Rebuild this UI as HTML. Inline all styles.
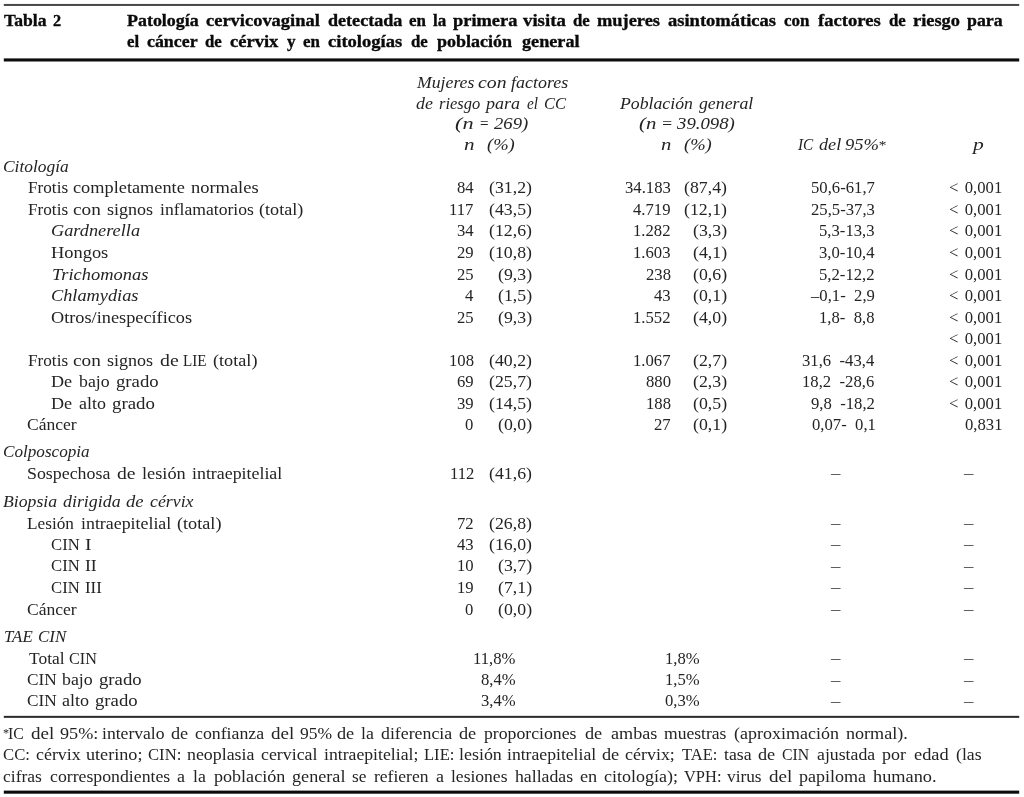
<!DOCTYPE html>
<html lang="es"><head><meta charset="utf-8"><title>Tabla 2</title>
<style>
html,body{margin:0;padding:0;background:#fff;}
body{width:1024px;height:797px;overflow:hidden;font-family:"Liberation Serif", serif;}
#w{position:absolute;left:0;top:0;width:1024px;height:797px;overflow:hidden;will-change:transform;filter:grayscale(1);}
#w svg{position:absolute;left:0;top:0;}
.x{position:absolute;white-space:pre;line-height:20px;height:20px;margin:0;padding:0;transform-origin:0 0;}
.t{font-weight:700;color:#0a0a0a;-webkit-text-stroke:0.35px #0a0a0a;}
.b{color:#242424;}
.i{font-style:italic;color:#242424;}
.f{color:#242424;}
.d{color:#444;}
.fg{display:inline-block;width:0.5em;}
</style></head>
<body>
<div id="w">
<svg width="1024" height="797" viewBox="0 0 1024 797"><rect x="3.80" y="3.95" width="1015.40" height="2.00" fill="#474747"/><rect x="3.80" y="58.40" width="1015.40" height="3.10" fill="#0c0c0c"/><rect x="3.80" y="715.85" width="1015.40" height="2.00" fill="#2a2a2a"/><rect x="3.80" y="790.60" width="1015.40" height="3.10" fill="#0c0c0c"/></svg>
<span class="x t" style="font-size:17.3px;word-spacing:0.09em;left:4.20px;top:11px;transform:scaleX(1.0215)">Tabla</span>
<span class="x t" style="font-size:17.3px;word-spacing:0.09em;left:53.10px;top:11px;transform:scaleX(0.9416)">2</span>
<span class="x i" style="font-size:17.1px;word-spacing:0.1em;left:416.60px;top:73px;transform:scaleX(1.0359)">Mujeres</span>
<span class="x i" style="font-size:17.1px;word-spacing:0.1em;left:477.90px;top:73px;transform:scaleX(1.1573)">con</span>
<span class="x i" style="font-size:17.1px;word-spacing:0.1em;left:511.30px;top:73px;transform:scaleX(1.0497)">factores</span>
<span class="x i" style="font-size:17.1px;word-spacing:0.1em;left:416.04px;top:94px;transform:scaleX(1.0462)">de</span>
<span class="x i" style="font-size:17.1px;word-spacing:0.1em;left:438.90px;top:94px;transform:scaleX(0.9632)">riesgo</span>
<span class="x i" style="font-size:17.1px;word-spacing:0.1em;left:486.40px;top:94px;transform:scaleX(1.0561)">para</span>
<span class="x i" style="font-size:17.1px;word-spacing:0.1em;left:526.91px;top:94px;transform:scaleX(0.8894)">el</span>
<span class="x i" style="font-size:17.1px;word-spacing:0.1em;left:544.26px;top:94px;transform:scaleX(0.9679)">CC</span>
<span class="x i" style="font-size:17.1px;word-spacing:0.1em;left:455.49px;top:114px;transform:scaleX(1.3049)">(n</span>
<span class="x i" style="font-size:17.1px;word-spacing:0.1em;left:478.57px;top:114px;transform:scaleX(0.8927)">=</span>
<span class="x i" style="font-size:17.1px;word-spacing:0.1em;left:494.30px;top:114px;transform:scaleX(1.0903)">269)</span>
<span class="x i" style="font-size:17.1px;word-spacing:0.1em;left:463.84px;top:135px;transform:scaleX(1.2340)">n</span>
<span class="x i" style="font-size:17.1px;word-spacing:0.1em;left:486.99px;top:135px;transform:scaleX(1.0839)">(%)</span>
<span class="x i" style="font-size:17.1px;word-spacing:0.1em;left:620.30px;top:94px;transform:scaleX(1.0378)">Población</span>
<span class="x i" style="font-size:17.1px;word-spacing:0.1em;left:698.80px;top:94px;transform:scaleX(1.0383)">general</span>
<span class="x i" style="font-size:17.1px;word-spacing:0.1em;left:639.23px;top:114px;transform:scaleX(1.2191)">(n</span>
<span class="x i" style="font-size:17.1px;word-spacing:0.1em;left:660.85px;top:114px;transform:scaleX(1.0357)">=</span>
<span class="x i" style="font-size:17.1px;word-spacing:0.1em;left:677.20px;top:114px;transform:scaleX(1.0982)">39.098)</span>
<span class="x i" style="font-size:17.1px;word-spacing:0.1em;left:660.51px;top:135px;transform:scaleX(1.2106)">n</span>
<span class="x i" style="font-size:17.1px;word-spacing:0.1em;left:683.69px;top:135px;transform:scaleX(1.0839)">(%)</span>
<span class="x i" style="font-size:17.1px;word-spacing:0.1em;left:797.80px;top:135px;transform:scaleX(0.8937)">IC</span>
<span class="x i" style="font-size:17.1px;word-spacing:0.1em;left:818.70px;top:135px;transform:scaleX(1.0634)">del</span>
<span class="x i" style="font-size:17.1px;word-spacing:0.1em;left:845.39px;top:135px;transform:scaleX(1.0868)">95%</span>
<span class="x i" style="font-size:13px;word-spacing:0.1em;left:877.67px;top:135px;transform:scaleX(1.1924)">*</span>
<span class="x i" style="font-size:17.1px;word-spacing:0.1em;left:973.10px;top:135px;transform:scaleX(1.2593)">p</span>
<span class="x i" style="font-size:17.1px;word-spacing:0.1em;left:3.39px;top:157px;transform:scaleX(1.0172)">Citología</span>
<span class="x b" style="font-size:17.1px;word-spacing:0.13em;left:27.76px;top:178px;transform:scaleX(1.0046)">Frotis</span>
<span class="x b" style="font-size:17.1px;word-spacing:0.13em;left:73.40px;top:178px;transform:scaleX(1.0708)">completamente</span>
<span class="x b" style="font-size:17.1px;word-spacing:0.13em;left:191.20px;top:178px;transform:scaleX(1.0787)">normales</span>
<span class="x b" style="font-size:17.1px;word-spacing:0.13em;left:27.76px;top:200px;transform:scaleX(1.0046)">Frotis</span>
<span class="x b" style="font-size:17.1px;word-spacing:0.13em;left:73.43px;top:200px;transform:scaleX(1.1272)">con</span>
<span class="x b" style="font-size:17.1px;word-spacing:0.13em;left:106.81px;top:200px;transform:scaleX(1.0547)">signos</span>
<span class="x b" style="font-size:17.1px;word-spacing:0.13em;left:159.60px;top:200px;transform:scaleX(1.0301)">inflamatorios</span>
<span class="x b" style="font-size:17.1px;word-spacing:0.13em;left:259.30px;top:200px;transform:scaleX(1.0601)">(total)</span>
<span class="x i" style="font-size:17.1px;word-spacing:0.1em;left:51.21px;top:221px;transform:scaleX(1.0695)">Gardnerella</span>
<span class="x b" style="font-size:17.1px;word-spacing:0.13em;left:51.21px;top:243px;transform:scaleX(1.0769)">Hongos</span>
<span class="x i" style="font-size:17.1px;word-spacing:0.1em;left:51.50px;top:265px;transform:scaleX(1.0794)">Trichomonas</span>
<span class="x i" style="font-size:17.1px;word-spacing:0.1em;left:50.60px;top:286px;transform:scaleX(1.0713)">Chlamydias</span>
<span class="x b" style="font-size:17.1px;word-spacing:0.13em;left:50.60px;top:308px;transform:scaleX(1.0692)">Otros/inespecíficos</span>
<span class="x b" style="font-size:17.1px;word-spacing:0.13em;left:27.76px;top:351px;transform:scaleX(1.0046)">Frotis</span>
<span class="x b" style="font-size:17.1px;word-spacing:0.13em;left:73.43px;top:351px;transform:scaleX(1.1272)">con</span>
<span class="x b" style="font-size:17.1px;word-spacing:0.13em;left:106.81px;top:351px;transform:scaleX(1.0547)">signos</span>
<span class="x b" style="font-size:17.1px;word-spacing:0.13em;left:159.56px;top:351px;transform:scaleX(1.1562)">de</span>
<span class="x b" style="font-size:17.1px;word-spacing:0.13em;left:183.40px;top:351px;transform:scaleX(0.8841)">LIE</span>
<span class="x b" style="font-size:17.1px;word-spacing:0.13em;left:213.02px;top:351px;transform:scaleX(1.0653)">(total)</span>
<span class="x b" style="font-size:17.1px;word-spacing:0.13em;left:51.19px;top:372px;transform:scaleX(1.0616)">De</span>
<span class="x b" style="font-size:17.1px;word-spacing:0.13em;left:78.70px;top:372px;transform:scaleX(1.0397)">bajo</span>
<span class="x b" style="font-size:17.1px;word-spacing:0.13em;left:115.61px;top:372px;transform:scaleX(1.0948)">grado</span>
<span class="x b" style="font-size:17.1px;word-spacing:0.13em;left:51.19px;top:394px;transform:scaleX(1.0616)">De</span>
<span class="x b" style="font-size:17.1px;word-spacing:0.13em;left:78.72px;top:394px;transform:scaleX(1.0500)">alto</span>
<span class="x b" style="font-size:17.1px;word-spacing:0.13em;left:112.08px;top:394px;transform:scaleX(1.1029)">grado</span>
<span class="x b" style="font-size:17.1px;word-spacing:0.13em;left:27.11px;top:415px;transform:scaleX(1.0261)">Cáncer</span>
<span class="x i" style="font-size:17.1px;word-spacing:0.1em;left:3.39px;top:442px;transform:scaleX(1.0031)">Colposcopia</span>
<span class="x b" style="font-size:17.1px;word-spacing:0.13em;left:27.10px;top:464px;transform:scaleX(1.0450)">Sospechosa</span>
<span class="x b" style="font-size:17.1px;word-spacing:0.13em;left:117.11px;top:464px;transform:scaleX(1.1482)">de</span>
<span class="x b" style="font-size:17.1px;word-spacing:0.13em;left:142.09px;top:464px;transform:scaleX(1.0720)">lesión</span>
<span class="x b" style="font-size:17.1px;word-spacing:0.13em;left:191.80px;top:464px;transform:scaleX(1.0450)">intraepitelial</span>
<span class="x i" style="font-size:17.1px;word-spacing:0.1em;left:3.40px;top:492px;transform:scaleX(1.0355)">Biopsia</span>
<span class="x i" style="font-size:17.1px;word-spacing:0.1em;left:63.01px;top:492px;transform:scaleX(1.0461)">dirigida</span>
<span class="x i" style="font-size:17.1px;word-spacing:0.1em;left:126.46px;top:492px;transform:scaleX(1.0875)">de</span>
<span class="x i" style="font-size:17.1px;word-spacing:0.1em;left:149.90px;top:492px;transform:scaleX(1.0414)">cérvix</span>
<span class="x b" style="font-size:17.1px;word-spacing:0.13em;left:27.12px;top:514px;transform:scaleX(1.0081)">Lesión</span>
<span class="x b" style="font-size:17.1px;word-spacing:0.13em;left:80.90px;top:514px;transform:scaleX(1.0450)">intraepitelial</span>
<span class="x b" style="font-size:17.1px;word-spacing:0.13em;left:176.50px;top:514px;transform:scaleX(1.0651)">(total)</span>
<span class="x b" style="font-size:17.1px;word-spacing:0.13em;left:50.63px;top:535px;transform:scaleX(0.9760)">CIN</span>
<span class="x b" style="font-size:17.1px;word-spacing:0.13em;left:84.96px;top:535px;transform:scaleX(1.1421)">I</span>
<span class="x b" style="font-size:17.1px;word-spacing:0.13em;left:50.63px;top:556px;transform:scaleX(0.9760)">CIN</span>
<span class="x b" style="font-size:17.1px;word-spacing:0.13em;left:84.98px;top:556px;transform:scaleX(1.0303)">II</span>
<span class="x b" style="font-size:17.1px;word-spacing:0.13em;left:50.63px;top:578px;transform:scaleX(0.9760)">CIN</span>
<span class="x b" style="font-size:17.1px;word-spacing:0.13em;left:84.94px;top:578px;transform:scaleX(0.9847)">III</span>
<span class="x b" style="font-size:17.1px;word-spacing:0.13em;left:27.11px;top:600px;transform:scaleX(1.0261)">Cáncer</span>
<span class="x i" style="font-size:17.1px;word-spacing:0.1em;left:4.30px;top:627px;transform:scaleX(0.9839)">TAE</span>
<span class="x i" style="font-size:17.1px;word-spacing:0.1em;left:37.99px;top:627px;transform:scaleX(0.9904)">CIN</span>
<span class="x b" style="font-size:17.1px;word-spacing:0.13em;left:28.75px;top:649px;transform:scaleX(1.0186)">Total</span>
<span class="x b" style="font-size:17.1px;word-spacing:0.13em;left:69.31px;top:649px;transform:scaleX(0.9466)">CIN</span>
<span class="x b" style="font-size:17.1px;word-spacing:0.13em;left:27.08px;top:670px;transform:scaleX(1.0087)">CIN</span>
<span class="x b" style="font-size:17.1px;word-spacing:0.13em;left:62.41px;top:670px;transform:scaleX(1.0439)">bajo</span>
<span class="x b" style="font-size:17.1px;word-spacing:0.13em;left:99.01px;top:670px;transform:scaleX(1.0948)">grado</span>
<span class="x b" style="font-size:17.1px;word-spacing:0.13em;left:27.08px;top:691px;transform:scaleX(1.0087)">CIN</span>
<span class="x b" style="font-size:17.1px;word-spacing:0.13em;left:62.40px;top:691px;transform:scaleX(1.0577)">alto</span>
<span class="x b" style="font-size:17.1px;word-spacing:0.13em;left:95.31px;top:691px;transform:scaleX(1.0948)">grado</span>
<span class="x b" style="font-size:17.1px;word-spacing:0.13em;left:457.40px;top:178px;transform:scaleX(0.9750)">84</span>
<span class="x b" style="font-size:17.1px;word-spacing:0.13em;left:489.40px;top:178px;transform:scaleX(1.0400)">(31,2)</span>
<span class="x b" style="font-size:17.1px;word-spacing:0.13em;left:624.80px;top:178px;transform:scaleX(0.9750)">34.183</span>
<span class="x b" style="font-size:17.1px;word-spacing:0.13em;left:684.00px;top:178px;transform:scaleX(1.0400)">(87,4)</span>
<span class="x b" style="font-size:17.1px;word-spacing:0.13em;left:811.30px;top:178px;transform:scaleX(0.9750)">50,6-61,7</span>
<span class="x b" style="font-size:17.1px;word-spacing:0.13em;left:948.50px;top:178px;transform:scaleX(0.9750)">&lt; 0,001</span>
<span class="x b" style="font-size:17.1px;word-spacing:0.13em;left:449.40px;top:200px;transform:scaleX(0.9750)">117</span>
<span class="x b" style="font-size:17.1px;word-spacing:0.13em;left:489.40px;top:200px;transform:scaleX(1.0400)">(43,5)</span>
<span class="x b" style="font-size:17.1px;word-spacing:0.13em;left:632.80px;top:200px;transform:scaleX(0.9750)">4.719</span>
<span class="x b" style="font-size:17.1px;word-spacing:0.13em;left:684.00px;top:200px;transform:scaleX(1.0400)">(12,1)</span>
<span class="x b" style="font-size:17.1px;word-spacing:0.13em;left:811.30px;top:200px;transform:scaleX(0.9750)">25,5-37,3</span>
<span class="x b" style="font-size:17.1px;word-spacing:0.13em;left:948.50px;top:200px;transform:scaleX(0.9750)">&lt; 0,001</span>
<span class="x b" style="font-size:17.1px;word-spacing:0.13em;left:457.40px;top:221px;transform:scaleX(0.9750)">34</span>
<span class="x b" style="font-size:17.1px;word-spacing:0.13em;left:489.40px;top:221px;transform:scaleX(1.0400)">(12,6)</span>
<span class="x b" style="font-size:17.1px;word-spacing:0.13em;left:632.80px;top:221px;transform:scaleX(0.9750)">1.282</span>
<span class="x b" style="font-size:17.1px;word-spacing:0.13em;left:693.00px;top:221px;transform:scaleX(1.0400)">(3,3)</span>
<span class="x b" style="font-size:17.1px;word-spacing:0.13em;left:819.30px;top:221px;transform:scaleX(0.9750)">5,3-13,3</span>
<span class="x b" style="font-size:17.1px;word-spacing:0.13em;left:948.50px;top:221px;transform:scaleX(0.9750)">&lt; 0,001</span>
<span class="x b" style="font-size:17.1px;word-spacing:0.13em;left:457.40px;top:243px;transform:scaleX(0.9750)">29</span>
<span class="x b" style="font-size:17.1px;word-spacing:0.13em;left:489.40px;top:243px;transform:scaleX(1.0400)">(10,8)</span>
<span class="x b" style="font-size:17.1px;word-spacing:0.13em;left:632.80px;top:243px;transform:scaleX(0.9750)">1.603</span>
<span class="x b" style="font-size:17.1px;word-spacing:0.13em;left:693.00px;top:243px;transform:scaleX(1.0400)">(4,1)</span>
<span class="x b" style="font-size:17.1px;word-spacing:0.13em;left:819.30px;top:243px;transform:scaleX(0.9750)">3,0-10,4</span>
<span class="x b" style="font-size:17.1px;word-spacing:0.13em;left:948.50px;top:243px;transform:scaleX(0.9750)">&lt; 0,001</span>
<span class="x b" style="font-size:17.1px;word-spacing:0.13em;left:457.40px;top:265px;transform:scaleX(0.9750)">25</span>
<span class="x b" style="font-size:17.1px;word-spacing:0.13em;left:498.40px;top:265px;transform:scaleX(1.0400)">(9,3)</span>
<span class="x b" style="font-size:17.1px;word-spacing:0.13em;left:645.80px;top:265px;transform:scaleX(0.9750)">238</span>
<span class="x b" style="font-size:17.1px;word-spacing:0.13em;left:693.00px;top:265px;transform:scaleX(1.0400)">(0,6)</span>
<span class="x b" style="font-size:17.1px;word-spacing:0.13em;left:819.30px;top:265px;transform:scaleX(0.9750)">5,2-12,2</span>
<span class="x b" style="font-size:17.1px;word-spacing:0.13em;left:948.50px;top:265px;transform:scaleX(0.9750)">&lt; 0,001</span>
<span class="x b" style="font-size:17.1px;word-spacing:0.13em;left:465.40px;top:286px;transform:scaleX(0.9750)">4</span>
<span class="x b" style="font-size:17.1px;word-spacing:0.13em;left:498.40px;top:286px;transform:scaleX(1.0400)">(1,5)</span>
<span class="x b" style="font-size:17.1px;word-spacing:0.13em;left:653.80px;top:286px;transform:scaleX(0.9750)">43</span>
<span class="x b" style="font-size:17.1px;word-spacing:0.13em;left:693.00px;top:286px;transform:scaleX(1.0400)">(0,1)</span>
<span class="x b" style="font-size:17.1px;word-spacing:0.13em;left:811.30px;top:286px;transform:scaleX(0.9750)">–0,1-<span class="fg"></span>2,9</span>
<span class="x b" style="font-size:17.1px;word-spacing:0.13em;left:948.50px;top:286px;transform:scaleX(0.9750)">&lt; 0,001</span>
<span class="x b" style="font-size:17.1px;word-spacing:0.13em;left:457.40px;top:308px;transform:scaleX(0.9750)">25</span>
<span class="x b" style="font-size:17.1px;word-spacing:0.13em;left:498.40px;top:308px;transform:scaleX(1.0400)">(9,3)</span>
<span class="x b" style="font-size:17.1px;word-spacing:0.13em;left:632.80px;top:308px;transform:scaleX(0.9750)">1.552</span>
<span class="x b" style="font-size:17.1px;word-spacing:0.13em;left:693.00px;top:308px;transform:scaleX(1.0400)">(4,0)</span>
<span class="x b" style="font-size:17.1px;word-spacing:0.13em;left:819.30px;top:308px;transform:scaleX(0.9750)">1,8-<span class="fg"></span>8,8</span>
<span class="x b" style="font-size:17.1px;word-spacing:0.13em;left:948.50px;top:308px;transform:scaleX(0.9750)">&lt; 0,001</span>
<span class="x b" style="font-size:17.1px;word-spacing:0.13em;left:948.50px;top:329px;transform:scaleX(0.9750)">&lt; 0,001</span>
<span class="x b" style="font-size:17.1px;word-spacing:0.13em;left:449.40px;top:351px;transform:scaleX(0.9750)">108</span>
<span class="x b" style="font-size:17.1px;word-spacing:0.13em;left:489.40px;top:351px;transform:scaleX(1.0400)">(40,2)</span>
<span class="x b" style="font-size:17.1px;word-spacing:0.13em;left:632.80px;top:351px;transform:scaleX(0.9750)">1.067</span>
<span class="x b" style="font-size:17.1px;word-spacing:0.13em;left:693.00px;top:351px;transform:scaleX(1.0400)">(2,7)</span>
<span class="x b" style="font-size:17.1px;word-spacing:0.13em;left:802.30px;top:351px;transform:scaleX(0.9750)">31,6<span class="fg"></span>-43,4</span>
<span class="x b" style="font-size:17.1px;word-spacing:0.13em;left:948.50px;top:351px;transform:scaleX(0.9750)">&lt; 0,001</span>
<span class="x b" style="font-size:17.1px;word-spacing:0.13em;left:457.40px;top:372px;transform:scaleX(0.9750)">69</span>
<span class="x b" style="font-size:17.1px;word-spacing:0.13em;left:489.40px;top:372px;transform:scaleX(1.0400)">(25,7)</span>
<span class="x b" style="font-size:17.1px;word-spacing:0.13em;left:645.80px;top:372px;transform:scaleX(0.9750)">880</span>
<span class="x b" style="font-size:17.1px;word-spacing:0.13em;left:693.00px;top:372px;transform:scaleX(1.0400)">(2,3)</span>
<span class="x b" style="font-size:17.1px;word-spacing:0.13em;left:802.30px;top:372px;transform:scaleX(0.9750)">18,2<span class="fg"></span>-28,6</span>
<span class="x b" style="font-size:17.1px;word-spacing:0.13em;left:948.50px;top:372px;transform:scaleX(0.9750)">&lt; 0,001</span>
<span class="x b" style="font-size:17.1px;word-spacing:0.13em;left:457.40px;top:394px;transform:scaleX(0.9750)">39</span>
<span class="x b" style="font-size:17.1px;word-spacing:0.13em;left:489.40px;top:394px;transform:scaleX(1.0400)">(14,5)</span>
<span class="x b" style="font-size:17.1px;word-spacing:0.13em;left:645.80px;top:394px;transform:scaleX(0.9750)">188</span>
<span class="x b" style="font-size:17.1px;word-spacing:0.13em;left:693.00px;top:394px;transform:scaleX(1.0400)">(0,5)</span>
<span class="x b" style="font-size:17.1px;word-spacing:0.13em;left:811.30px;top:394px;transform:scaleX(0.9750)">9,8<span class="fg"></span>-18,2</span>
<span class="x b" style="font-size:17.1px;word-spacing:0.13em;left:948.50px;top:394px;transform:scaleX(0.9750)">&lt; 0,001</span>
<span class="x b" style="font-size:17.1px;word-spacing:0.13em;left:465.40px;top:415px;transform:scaleX(0.9750)">0</span>
<span class="x b" style="font-size:17.1px;word-spacing:0.13em;left:498.40px;top:415px;transform:scaleX(1.0400)">(0,0)</span>
<span class="x b" style="font-size:17.1px;word-spacing:0.13em;left:653.80px;top:415px;transform:scaleX(0.9750)">27</span>
<span class="x b" style="font-size:17.1px;word-spacing:0.13em;left:693.00px;top:415px;transform:scaleX(1.0400)">(0,1)</span>
<span class="x b" style="font-size:17.1px;word-spacing:0.13em;left:812.30px;top:415px;transform:scaleX(0.9750)">0,07-<span class="fg"></span>0,1</span>
<span class="x b" style="font-size:17.1px;word-spacing:0.13em;left:964.50px;top:415px;transform:scaleX(0.9750)">0,831</span>
<span class="x b" style="font-size:17.1px;word-spacing:0.13em;left:450.40px;top:464px;transform:scaleX(0.9750)">112</span>
<span class="x b" style="font-size:17.1px;word-spacing:0.13em;left:489.40px;top:464px;transform:scaleX(1.0400)">(41,6)</span>
<span class="x d" style="font-size:17.1px;word-spacing:0em;left:830.80px;top:463px;transform:scaleX(1.1000)">–</span>
<span class="x d" style="font-size:17.1px;word-spacing:0em;left:963.90px;top:463px;transform:scaleX(1.1000)">–</span>
<span class="x b" style="font-size:17.1px;word-spacing:0.13em;left:457.40px;top:514px;transform:scaleX(0.9750)">72</span>
<span class="x b" style="font-size:17.1px;word-spacing:0.13em;left:489.40px;top:514px;transform:scaleX(1.0400)">(26,8)</span>
<span class="x d" style="font-size:17.1px;word-spacing:0em;left:830.80px;top:513px;transform:scaleX(1.1000)">–</span>
<span class="x d" style="font-size:17.1px;word-spacing:0em;left:963.90px;top:513px;transform:scaleX(1.1000)">–</span>
<span class="x b" style="font-size:17.1px;word-spacing:0.13em;left:457.40px;top:535px;transform:scaleX(0.9750)">43</span>
<span class="x b" style="font-size:17.1px;word-spacing:0.13em;left:489.40px;top:535px;transform:scaleX(1.0400)">(16,0)</span>
<span class="x d" style="font-size:17.1px;word-spacing:0em;left:830.80px;top:534px;transform:scaleX(1.1000)">–</span>
<span class="x d" style="font-size:17.1px;word-spacing:0em;left:963.90px;top:534px;transform:scaleX(1.1000)">–</span>
<span class="x b" style="font-size:17.1px;word-spacing:0.13em;left:457.40px;top:556px;transform:scaleX(0.9750)">10</span>
<span class="x b" style="font-size:17.1px;word-spacing:0.13em;left:498.40px;top:556px;transform:scaleX(1.0400)">(3,7)</span>
<span class="x d" style="font-size:17.1px;word-spacing:0em;left:830.80px;top:556px;transform:scaleX(1.1000)">–</span>
<span class="x d" style="font-size:17.1px;word-spacing:0em;left:963.90px;top:556px;transform:scaleX(1.1000)">–</span>
<span class="x b" style="font-size:17.1px;word-spacing:0.13em;left:457.40px;top:578px;transform:scaleX(0.9750)">19</span>
<span class="x b" style="font-size:17.1px;word-spacing:0.13em;left:498.40px;top:578px;transform:scaleX(1.0400)">(7,1)</span>
<span class="x d" style="font-size:17.1px;word-spacing:0em;left:830.80px;top:577px;transform:scaleX(1.1000)">–</span>
<span class="x d" style="font-size:17.1px;word-spacing:0em;left:963.90px;top:577px;transform:scaleX(1.1000)">–</span>
<span class="x b" style="font-size:17.1px;word-spacing:0.13em;left:465.40px;top:600px;transform:scaleX(0.9750)">0</span>
<span class="x b" style="font-size:17.1px;word-spacing:0.13em;left:498.40px;top:600px;transform:scaleX(1.0400)">(0,0)</span>
<span class="x d" style="font-size:17.1px;word-spacing:0em;left:830.80px;top:599px;transform:scaleX(1.1000)">–</span>
<span class="x d" style="font-size:17.1px;word-spacing:0em;left:963.90px;top:599px;transform:scaleX(1.1000)">–</span>
<span class="x b" style="font-size:17.1px;word-spacing:0.13em;left:473.30px;top:649px;transform:scaleX(0.9750)">11,8%</span>
<span class="x b" style="font-size:17.1px;word-spacing:0.13em;left:665.40px;top:649px;transform:scaleX(0.9750)">1,8%</span>
<span class="x d" style="font-size:17.1px;word-spacing:0em;left:830.80px;top:648px;transform:scaleX(1.1000)">–</span>
<span class="x d" style="font-size:17.1px;word-spacing:0em;left:963.90px;top:648px;transform:scaleX(1.1000)">–</span>
<span class="x b" style="font-size:17.1px;word-spacing:0.13em;left:481.30px;top:670px;transform:scaleX(0.9750)">8,4%</span>
<span class="x b" style="font-size:17.1px;word-spacing:0.13em;left:665.40px;top:670px;transform:scaleX(0.9750)">1,5%</span>
<span class="x d" style="font-size:17.1px;word-spacing:0em;left:830.80px;top:670px;transform:scaleX(1.1000)">–</span>
<span class="x d" style="font-size:17.1px;word-spacing:0em;left:963.90px;top:670px;transform:scaleX(1.1000)">–</span>
<span class="x b" style="font-size:17.1px;word-spacing:0.13em;left:481.30px;top:691px;transform:scaleX(0.9750)">3,4%</span>
<span class="x b" style="font-size:17.1px;word-spacing:0.13em;left:665.40px;top:691px;transform:scaleX(0.9750)">0,3%</span>
<span class="x d" style="font-size:17.1px;word-spacing:0em;left:830.80px;top:691px;transform:scaleX(1.1000)">–</span>
<span class="x d" style="font-size:17.1px;word-spacing:0em;left:963.90px;top:691px;transform:scaleX(1.1000)">–</span>
<span class="x f" style="font-size:13px;word-spacing:0.11em;left:3.05px;top:723px;transform:scaleX(0.9431)">*</span>
<span class="x t" style="font-size:17.3px;word-spacing:0.09em;left:126.60px;top:11px;transform:scaleX(1.0371)">Patología</span>
<span class="x t" style="font-size:17.3px;word-spacing:0.09em;left:206.47px;top:11px;transform:scaleX(1.0685)">cervicovaginal</span>
<span class="x t" style="font-size:17.3px;word-spacing:0.09em;left:327.90px;top:11px;transform:scaleX(1.0471)">detectada</span>
<span class="x t" style="font-size:17.3px;word-spacing:0.09em;left:408.96px;top:11px;transform:scaleX(0.9798)">en</span>
<span class="x t" style="font-size:17.3px;word-spacing:0.09em;left:432.87px;top:11px;transform:scaleX(0.9817)">la</span>
<span class="x t" style="font-size:17.3px;word-spacing:0.09em;left:452.90px;top:11px;transform:scaleX(1.0645)">primera</span>
<span class="x t" style="font-size:17.3px;word-spacing:0.09em;left:523.32px;top:11px;transform:scaleX(1.0878)">visita</span>
<span class="x t" style="font-size:17.3px;word-spacing:0.09em;left:573.19px;top:11px;transform:scaleX(0.9734)">de</span>
<span class="x t" style="font-size:17.3px;word-spacing:0.09em;left:597.47px;top:11px;transform:scaleX(1.0637)">mujeres</span>
<span class="x t" style="font-size:17.3px;word-spacing:0.09em;left:668.35px;top:11px;transform:scaleX(1.0714)">asintomáticas</span>
<span class="x t" style="font-size:17.3px;word-spacing:0.09em;left:784.21px;top:11px;transform:scaleX(0.9838)">con</span>
<span class="x t" style="font-size:17.3px;word-spacing:0.09em;left:818.34px;top:11px;transform:scaleX(1.0767)">factores</span>
<span class="x t" style="font-size:17.3px;word-spacing:0.09em;left:889.15px;top:11px;transform:scaleX(0.9734)">de</span>
<span class="x t" style="font-size:17.3px;word-spacing:0.09em;left:913.33px;top:11px;transform:scaleX(1.0626)">riesgo</span>
<span class="x t" style="font-size:17.3px;word-spacing:0.09em;left:967.47px;top:11px;transform:scaleX(1.0308)">para</span>
<span class="x t" style="font-size:17.3px;word-spacing:0.09em;left:126.60px;top:32px;transform:scaleX(0.9696)">el</span>
<span class="x t" style="font-size:17.3px;word-spacing:0.09em;left:146.77px;top:32px;transform:scaleX(1.0331)">cáncer</span>
<span class="x t" style="font-size:17.3px;word-spacing:0.09em;left:205.17px;top:32px;transform:scaleX(0.9734)">de</span>
<span class="x t" style="font-size:17.3px;word-spacing:0.09em;left:230.07px;top:32px;transform:scaleX(1.0716)">cérvix</span>
<span class="x t" style="font-size:17.3px;word-spacing:0.09em;left:286.62px;top:32px;transform:scaleX(0.9818)">y</span>
<span class="x t" style="font-size:17.3px;word-spacing:0.09em;left:303.02px;top:32px;transform:scaleX(0.9798)">en</span>
<span class="x t" style="font-size:17.3px;word-spacing:0.09em;left:328.10px;top:32px;transform:scaleX(1.0740)">citologías</span>
<span class="x t" style="font-size:17.3px;word-spacing:0.09em;left:410.53px;top:32px;transform:scaleX(0.9734)">de</span>
<span class="x t" style="font-size:17.3px;word-spacing:0.09em;left:437.01px;top:32px;transform:scaleX(1.0419)">población</span>
<span class="x t" style="font-size:17.3px;word-spacing:0.09em;left:522.08px;top:32px;transform:scaleX(1.0516)">general</span>
<span class="x f" style="font-size:16.6px;word-spacing:0.11em;left:8.30px;top:724px;transform:scaleX(0.9559)">IC</span>
<span class="x f" style="font-size:16.6px;word-spacing:0.11em;left:31.29px;top:724px;transform:scaleX(1.1466)">del</span>
<span class="x f" style="font-size:16.6px;word-spacing:0.11em;left:59.56px;top:724px;transform:scaleX(1.0943)">95%:</span>
<span class="x f" style="font-size:16.6px;word-spacing:0.11em;left:102.46px;top:724px;transform:scaleX(1.0603)">intervalo</span>
<span class="x f" style="font-size:16.6px;word-spacing:0.11em;left:171.35px;top:724px;transform:scaleX(1.0996)">de</span>
<span class="x f" style="font-size:16.6px;word-spacing:0.11em;left:195.23px;top:724px;transform:scaleX(1.0720)">confianza</span>
<span class="x f" style="font-size:16.6px;word-spacing:0.11em;left:271.17px;top:724px;transform:scaleX(1.1466)">del</span>
<span class="x f" style="font-size:16.6px;word-spacing:0.11em;left:299.53px;top:724px;transform:scaleX(1.0553)">95%</span>
<span class="x f" style="font-size:16.6px;word-spacing:0.11em;left:337.39px;top:724px;transform:scaleX(1.0996)">de</span>
<span class="x f" style="font-size:16.6px;word-spacing:0.11em;left:360.86px;top:724px;transform:scaleX(1.0750)">la</span>
<span class="x f" style="font-size:16.6px;word-spacing:0.11em;left:380.74px;top:724px;transform:scaleX(1.0734)">diferencia</span>
<span class="x f" style="font-size:16.6px;word-spacing:0.11em;left:458.78px;top:724px;transform:scaleX(1.0996)">de</span>
<span class="x f" style="font-size:16.6px;word-spacing:0.11em;left:484.14px;top:724px;transform:scaleX(1.0669)">proporciones</span>
<span class="x f" style="font-size:16.6px;word-spacing:0.11em;left:585.17px;top:724px;transform:scaleX(1.0996)">de</span>
<span class="x f" style="font-size:16.6px;word-spacing:0.11em;left:610.73px;top:724px;transform:scaleX(1.0918)">ambas</span>
<span class="x f" style="font-size:16.6px;word-spacing:0.11em;left:664.41px;top:724px;transform:scaleX(1.0573)">muestras</span>
<span class="x f" style="font-size:16.6px;word-spacing:0.11em;left:734.36px;top:724px;transform:scaleX(1.0841)">(aproximación</span>
<span class="x f" style="font-size:16.6px;word-spacing:0.11em;left:845.51px;top:724px;transform:scaleX(1.0906)">normal).</span>
<span class="x f" style="font-size:16.6px;word-spacing:0.11em;left:3.02px;top:745px;transform:scaleX(1.0078)">CC:</span>
<span class="x f" style="font-size:16.6px;word-spacing:0.11em;left:35.54px;top:745px;transform:scaleX(1.0779)">cérvix</span>
<span class="x f" style="font-size:16.6px;word-spacing:0.11em;left:85.95px;top:745px;transform:scaleX(1.0934)">uterino;</span>
<span class="x f" style="font-size:16.6px;word-spacing:0.11em;left:147.93px;top:745px;transform:scaleX(1.0037)">CIN:</span>
<span class="x f" style="font-size:16.6px;word-spacing:0.11em;left:187.39px;top:745px;transform:scaleX(1.0757)">neoplasia</span>
<span class="x f" style="font-size:16.6px;word-spacing:0.11em;left:261.30px;top:745px;transform:scaleX(1.0756)">cervical</span>
<span class="x f" style="font-size:16.6px;word-spacing:0.11em;left:323.95px;top:745px;transform:scaleX(1.0663)">intraepitelial;</span>
<span class="x f" style="font-size:16.6px;word-spacing:0.11em;left:423.57px;top:745px;transform:scaleX(0.9979)">LIE:</span>
<span class="x f" style="font-size:16.6px;word-spacing:0.11em;left:458.89px;top:745px;transform:scaleX(1.0803)">lesión</span>
<span class="x f" style="font-size:16.6px;word-spacing:0.11em;left:506.78px;top:745px;transform:scaleX(1.0631)">intraepitelial</span>
<span class="x f" style="font-size:16.6px;word-spacing:0.11em;left:601.61px;top:745px;transform:scaleX(1.0996)">de</span>
<span class="x f" style="font-size:16.6px;word-spacing:0.11em;left:625.40px;top:745px;transform:scaleX(1.0822)">cérvix;</span>
<span class="x f" style="font-size:16.6px;word-spacing:0.11em;left:681.85px;top:745px;transform:scaleX(0.9951)">TAE:</span>
<span class="x f" style="font-size:16.6px;word-spacing:0.11em;left:723.81px;top:745px;transform:scaleX(1.0683)">tasa</span>
<span class="x f" style="font-size:16.6px;word-spacing:0.11em;left:758.08px;top:745px;transform:scaleX(1.0996)">de</span>
<span class="x f" style="font-size:16.6px;word-spacing:0.11em;left:782.14px;top:745px;transform:scaleX(0.9500)">CIN</span>
<span class="x f" style="font-size:16.6px;word-spacing:0.11em;left:816.52px;top:745px;transform:scaleX(1.0696)">ajustada</span>
<span class="x f" style="font-size:16.6px;word-spacing:0.11em;left:881.96px;top:745px;transform:scaleX(1.0828)">por</span>
<span class="x f" style="font-size:16.6px;word-spacing:0.11em;left:913.95px;top:745px;transform:scaleX(1.1062)">edad</span>
<span class="x f" style="font-size:16.6px;word-spacing:0.11em;left:956.06px;top:745px;transform:scaleX(1.0675)">(las</span>
<span class="x f" style="font-size:16.6px;word-spacing:0.11em;left:3.48px;top:767px;transform:scaleX(1.0563)">cifras</span>
<span class="x f" style="font-size:16.6px;word-spacing:0.11em;left:49.61px;top:767px;transform:scaleX(1.0694)">correspondientes</span>
<span class="x f" style="font-size:16.6px;word-spacing:0.11em;left:177.28px;top:767px;transform:scaleX(1.0838)">a</span>
<span class="x f" style="font-size:16.6px;word-spacing:0.11em;left:193.34px;top:767px;transform:scaleX(1.0750)">la</span>
<span class="x f" style="font-size:16.6px;word-spacing:0.11em;left:213.79px;top:767px;transform:scaleX(1.0885)">población</span>
<span class="x f" style="font-size:16.6px;word-spacing:0.11em;left:291.82px;top:767px;transform:scaleX(1.0941)">general</span>
<span class="x f" style="font-size:16.6px;word-spacing:0.11em;left:351.76px;top:767px;transform:scaleX(1.0425)">se</span>
<span class="x f" style="font-size:16.6px;word-spacing:0.11em;left:373.91px;top:767px;transform:scaleX(1.0567)">refieren</span>
<span class="x f" style="font-size:16.6px;word-spacing:0.11em;left:435.87px;top:767px;transform:scaleX(1.0838)">a</span>
<span class="x f" style="font-size:16.6px;word-spacing:0.11em;left:451.40px;top:767px;transform:scaleX(1.0562)">lesiones</span>
<span class="x f" style="font-size:16.6px;word-spacing:0.11em;left:515.03px;top:767px;transform:scaleX(1.0696)">halladas</span>
<span class="x f" style="font-size:16.6px;word-spacing:0.11em;left:580.18px;top:767px;transform:scaleX(1.0996)">en</span>
<span class="x f" style="font-size:16.6px;word-spacing:0.11em;left:604.14px;top:767px;transform:scaleX(1.0846)">citología);</span>
<span class="x f" style="font-size:16.6px;word-spacing:0.11em;left:683.69px;top:767px;transform:scaleX(0.9906)">VPH:</span>
<span class="x f" style="font-size:16.6px;word-spacing:0.11em;left:727.35px;top:767px;transform:scaleX(1.0415)">virus</span>
<span class="x f" style="font-size:16.6px;word-spacing:0.11em;left:769.35px;top:767px;transform:scaleX(1.1466)">del</span>
<span class="x f" style="font-size:16.6px;word-spacing:0.11em;left:798.84px;top:767px;transform:scaleX(1.0869)">papiloma</span>
<span class="x f" style="font-size:16.6px;word-spacing:0.11em;left:873.13px;top:767px;transform:scaleX(1.1026)">humano.</span>
</div>
</body></html>
